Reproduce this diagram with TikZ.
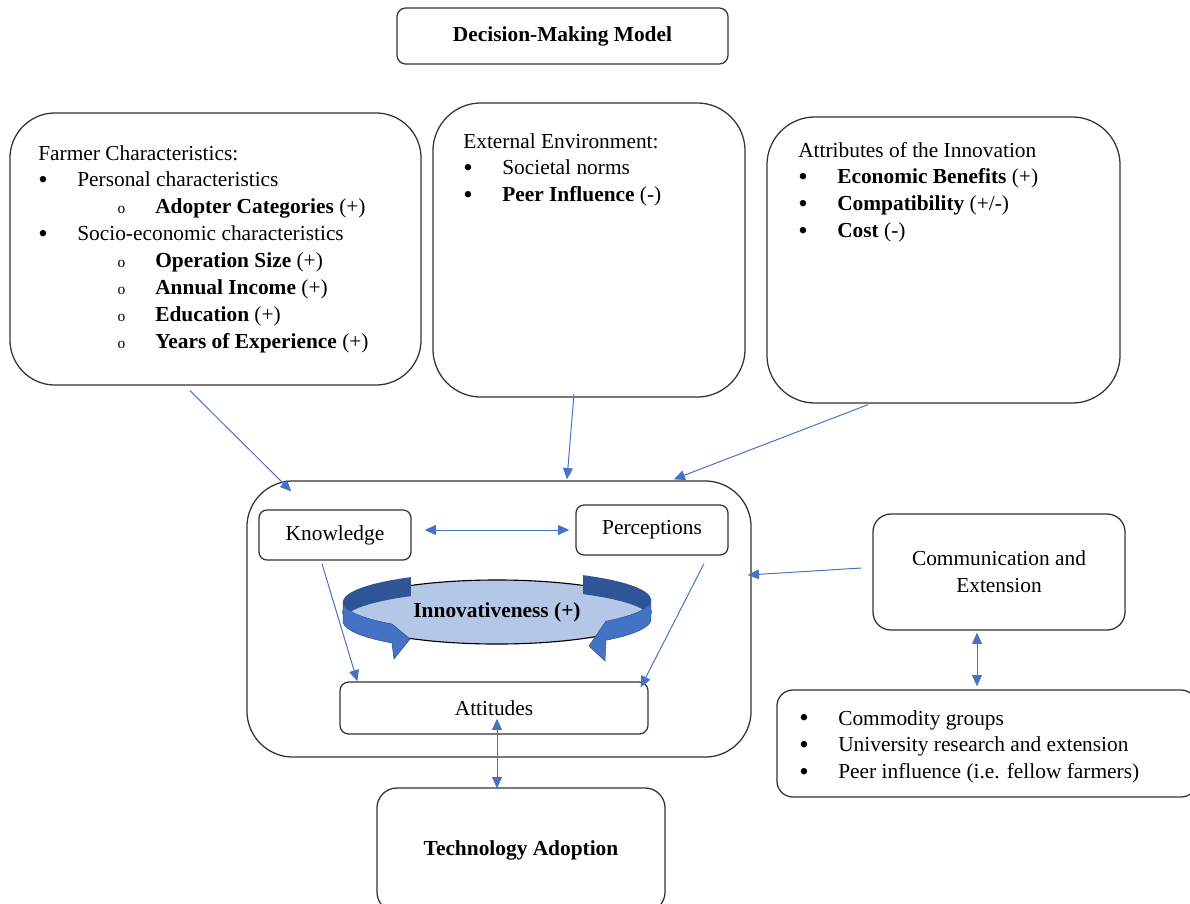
\documentclass[tikz,border=0pt]{standalone}
\usepackage{fontspec}
\setmainfont{Liberation Serif}
\usepackage{tikz}
\usetikzlibrary{arrows.meta,shapes.geometric}
\definecolor{linkblue}{RGB}{68,114,196}
\definecolor{ribbondark}{RGB}{47,85,151}
\definecolor{ovalfill}{RGB}{180,199,231}
% list items as in the source document
\newcommand{\bul}[1]{\makebox[0.975cm][l]{\smash{\raisebox{-1pt}{\fontsize{19}{19}\selectfont\textbullet}}}#1}
\newcommand{\subbul}[1]{\makebox[2.925cm][l]{\hspace{1.98cm}{\fontsize{11}{19}\selectfont o}}#1}

\begin{document}
\begin{tikzpicture}[x=0.025cm,y=-0.025cm,
		font=\fontsize{15.2}{19.1}\selectfont,
		box/.style={draw=black!80,line width=0.9pt,inner sep=0pt},
		bold/.style={font=\fontsize{15.2}{19.1}\selectfont\bfseries},
		listtext/.style={anchor=north west,align=left,inner sep=0pt},
		link/.style={draw=linkblue,line width=0.7pt,-{Triangle[length=8pt,width=7pt]}},
		twolink/.style={draw=linkblue,line width=0.7pt,{Triangle[length=8pt,width=7pt]}-{Triangle[length=8pt,width=7pt]}}]
		\useasboundingbox (0,0) rectangle (1190,903);
		\clip (0,0) rectangle (1190,903);
		% title
		\node[box,bold,rounded corners=0.22cm,minimum width=8.275cm,minimum height=1.4cm] (title) at (562.5,36) {Decision-Making Model};
		% the three upper boxes
		\node[box,rounded corners=1.13cm,minimum width=10.275cm,minimum height=6.8cm] (farmer) at (215.5,249) {};
		\node[box,rounded corners=1.2cm,minimum width=7.8cm,minimum height=7.35cm] (extenv) at (589,250) {};
		\node[box,rounded corners=1.2cm,minimum width=8.825cm,minimum height=7.15cm] (attrib) at (943.5,260) {};
		\node[listtext] (farmertxt) at (38,141) {\strut Farmer Characteristics:\\
			\bul{Personal characteristics}\\
			\subbul{\textbf{Adopter Categories} (+)}\\
			\bul{Socio-economic characteristics}\\
			\subbul{\textbf{Operation Size} (+)}\\
			\subbul{\textbf{Annual Income} (+)}\\
			\subbul{\textbf{Education} (+)}\\
			\subbul{\textbf{Years of Experience} (+)}};
		\node[listtext] (extenvtxt) at (463,129) {\strut External Environment:\\
			\bul{Societal norms}\\
			\bul{\textbf{Peer Influence} (-)}};
		\node[listtext] (attribtxt) at (798,138) {\strut Attributes of the Innovation\\
			\bul{\textbf{Economic Benefits} (+)}\\
			\bul{\textbf{Compatibility} (+/-)}\\
			\bul{\textbf{Cost} (-)}};
		% central box
		\node[box,rounded corners=1.15cm,minimum width=12.6cm,minimum height=6.9cm] (core) at (499,619) {};
		\node[box,rounded corners=0.2cm,minimum width=3.8cm,minimum height=1.25cm] (knowl) at (335,535) {Knowledge};
		\node[box,rounded corners=0.2cm,minimum width=3.8cm,minimum height=1.25cm] (percep) at (652,530) {Perceptions};
		\node[box,rounded corners=0.22cm,minimum width=7.7cm,minimum height=1.3cm] (attit) at (494,708) {Attitudes};
		% innovativeness oval with the two curved arrows
		\node[ellipse,draw=black,line width=0.8pt,fill=ovalfill,bold,inner sep=0pt,minimum width=7.7cm,minimum height=1.6cm] (innov) at (497,612) {Innovativeness (+)};
		\fill[ribbondark] plot[variable=\t,domain=124:178,samples=20] ({497+154*cos(\t)},{602-30*sin(\t)})
			-- plot[variable=\t,domain=178:124,samples=20] ({497+154*cos(\t)},{621-30*sin(\t)}) -- cycle;
		\filldraw[fill=linkblue,draw=ribbondark,line width=0.4pt] plot[variable=\t,domain=178:227,samples=20] ({497+154*cos(\t)},{602-30*sin(\t)})
			-- (410,639) -- (394,659) -- plot[variable=\t,domain=227:178,samples=20] ({497+154*cos(\t)},{621-30*sin(\t)}) -- cycle;
		\fill[ribbondark] plot[variable=\t,domain=56:2,samples=20] ({497+154*cos(\t)},{600-30*sin(\t)})
			-- plot[variable=\t,domain=2:56,samples=20] ({497+154*cos(\t)},{619-30*sin(\t)}) -- cycle;
		\filldraw[fill=linkblue,draw=ribbondark,line width=0.4pt] plot[variable=\t,domain=2:-45,samples=20] ({497+154*cos(\t)},{600-30*sin(\t)})
			-- (589,646) -- (605,661) -- plot[variable=\t,domain=-45:2,samples=20] ({497+154*cos(\t)},{619-30*sin(\t)}) -- cycle;
		% right hand boxes
		\node[box,rounded corners=0.45cm,minimum width=6.3cm,minimum height=2.9cm,align=center] (comm) at (999,572) {Communication and\\Extension};
		\node[box,rounded corners=0.4cm,minimum width=10.5cm,minimum height=2.675cm] (sources) at (987,743.5) {};
		\node[listtext] (sourcestxt) at (799,706) {\strut\bul{Commodity groups}\\
			\bul{University research and extension}\\
			\bul{Peer influence (i.e. fellow farmers)}};
		% outcome
		\node[box,bold,rounded corners=0.5cm,minimum width=7.2cm,minimum height=3.1cm] (adopt) at (521,850) {Technology Adoption};
		% connectors
		\draw[link] ([shift={(-25.5,5)}]farmer.south) -- ([shift={(45,11)}]core.north west);
		\draw[link] ([shift={(-15,-4)}]extenv.south) -- ([shift={(68,-1)}]core.north);
		\draw[link] ([shift={(-75.5,1)}]attrib.south) -- ([shift={(-78,-1)}]core.north east);
		\draw[twolink] ([shift={(13,-5)}]knowl.east) -- ([shift={(-6,0)}]percep.west);
		\draw[link] ([shift={(-13,3)}]knowl.south) -- ([shift={(18,0)}]attit.north west);
		\draw[link] ([shift={(52,8)}]percep.south) -- ([shift={(-8,6)}]attit.north east);
		\draw[link] ([shift={(-11,-4)}]comm.west) -- ([shift={(-4,-44)}]core.east);
		\draw[twolink] ([shift={(3,-16)}]attit.south) -- ([shift={(-24,1)}]adopt.north);
		\draw[twolink] ([shift={(-22,2)}]comm.south) -- ([shift={(-10,-3)}]sources.north);
	\end{tikzpicture}
\end{document}
